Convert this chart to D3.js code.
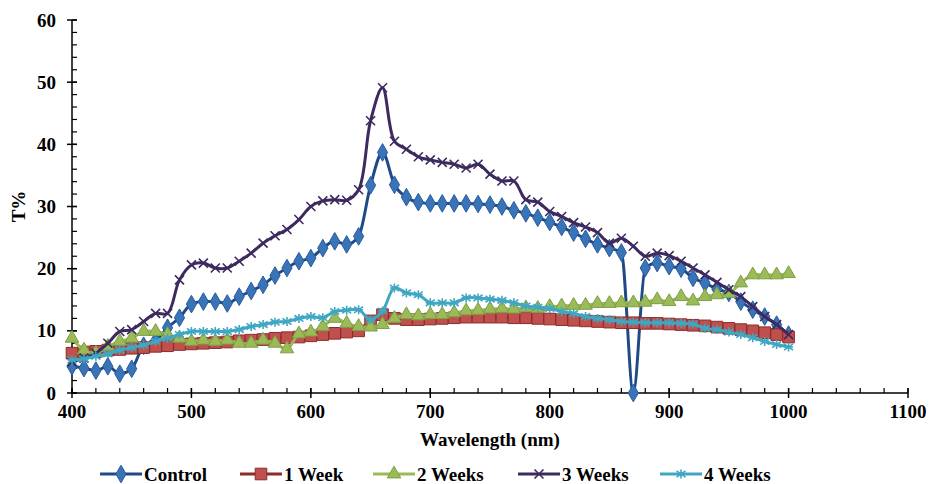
<!DOCTYPE html>
<html>
<head>
<meta charset="utf-8">
<script src="https://cdn.jsdelivr.net/npm/d3@7"></script>
<style>
  body { margin: 0; background: #fff; }
  svg text { font-family: "Liberation Serif", "Times New Roman", serif; font-weight: bold; fill: #000; }
</style>
</head>
<body>
<div id="vis"></div>
<script>
const wavelengths = [400, 410, 420, 430, 440, 450, 460, 470, 480, 490, 500, 510, 520, 530, 540, 550, 560, 570, 580, 590,
  600, 610, 620, 630, 640, 650, 660, 670, 680, 690, 700, 710, 720, 730, 740, 750, 760, 770, 780, 790,
  800, 810, 820, 830, 840, 850, 860, 870, 880, 890, 900, 910, 920, 930, 940, 950, 960, 970, 980, 990, 1000];

const control = [4.3, 4.0, 3.6, 4.3, 3.1, 3.9, 7.6, 8.4, 10.5, 12.1, 14.3, 14.7, 14.7, 14.4, 15.5, 16.4, 17.4, 18.9, 20.1, 21.2,
  21.7, 23.3, 24.4, 23.9, 25.2, 33.4, 38.7, 33.5, 31.5, 30.7, 30.5, 30.5, 30.5, 30.5, 30.4, 30.3, 30.0, 29.4, 28.9, 28.2,
  27.5, 26.7, 25.8, 24.8, 23.9, 23.3, 22.6, 0, 20.1, 20.9, 20.4, 20.0, 18.5, 17.7, 16.7, 16.1, 14.7, 13.4, 12.3, 11.0, 9.4];

const week1 = [6.4, 6.6, 6.7, 6.9, 7.0, 7.2, 7.3, 7.5, 7.6, 7.8, 7.9, 8.0, 8.1, 8.2, 8.4, 8.5, 8.6, 8.8, 8.9, 9.0,
  9.2, 9.4, 9.6, 9.8, 10.0, 11.6, 12.6, 12.0, 11.8, 11.8, 11.9, 12.0, 12.1, 12.2, 12.2, 12.2, 12.2, 12.1, 12.1, 12.0,
  11.9, 11.8, 11.7, 11.6, 11.5, 11.4, 11.3, 11.3, 11.2, 11.2, 11.1, 11.0, 10.9, 10.8, 10.6, 10.4, 10.2, 10.0, 9.7, 9.4, 9.0];

const week2 = [8.8, 6.9, 6.4, 7.5, 8.3, 8.8, 9.9, 9.9, 9.4, 8.8, 8.3, 8.5, 8.3, 8.5, 8.0, 8.0, 8.5, 8.0, 7.1, 9.5,
  9.8, 10.7, 12.0, 11.2, 10.7, 10.6, 11.0, 12.0, 12.6, 12.4, 12.6, 12.6, 12.9, 13.2, 13.3, 13.5, 13.6, 13.5, 13.7, 13.6,
  13.9, 14.0, 14.1, 14.1, 14.4, 14.4, 14.5, 14.5, 14.6, 15.0, 14.7, 15.5, 14.8, 15.5, 15.8, 16.0, 17.7, 19.0, 19.0, 19.0, 19.2];

const week3 = [5.0, 5.6, 6.4, 8.0, 9.9, 10.2, 11.5, 12.8, 12.8, 18.2, 20.6, 20.9, 20.1, 20.1, 21.2, 22.5, 24.1, 25.3, 26.3, 27.9,
  30.0, 30.9, 31.1, 31.0, 32.7, 43.8, 49.1, 40.5, 39.2, 38.0, 37.5, 37.1, 36.8, 36.2, 36.8, 35.2, 34.1, 34.1, 31.1, 30.7,
  29.2, 28.4, 27.4, 26.7, 25.8, 24.1, 24.9, 23.6, 22.0, 22.5, 22.1, 21.2, 20.1, 19.0, 17.8, 16.6, 15.5, 13.9, 12.3, 11.0, 9.4];

const week4 = [5.3, 5.5, 5.9, 6.3, 6.9, 7.3, 7.7, 8.3, 8.8, 9.4, 9.9, 9.9, 9.9, 9.9, 10.2, 10.7, 11.0, 11.4, 11.5, 12.0,
  12.3, 12.1, 13.1, 13.3, 13.4, 11.8, 13.2, 16.9, 16.1, 15.8, 14.5, 14.5, 14.5, 15.3, 15.3, 15.1, 14.9, 14.5, 14.0, 13.8,
  13.6, 13.1, 12.8, 12.3, 12.0, 11.8, 11.5, 11.4, 11.3, 11.3, 11.3, 11.2, 11.1, 10.4, 10.2, 9.8, 9.4, 8.9, 8.3, 7.8, 7.4];

const seriesNames = ["Control", "1 Week", "2 Weeks", "3 Weeks", "4 Weeks"];
const seriesValues = [control, week1, week2, week3, week4];
const xTicks = [400, 500, 600, 700, 800, 900, 1000, 1100];
const yTicks = [0, 10, 20, 30, 40, 50, 60];

const W = 929, H = 484;
const svg = d3.select("#vis").append("svg")
    .attr("width", W)
    .attr("height", H);

const x = d3.scaleLinear().domain([400, 1100]).range([72, 908]);
const y = d3.scaleLinear().domain([0, 60]).range([393, 20]);

// marker shapes
const xMark = r => `M${-r},${-r}L${r},${r}M${-r},${r}L${r},${-r}`;
const starMark = r => `M0,${-r}L0,${r}M${-r},${-r * 0.7}L${r},${r * 0.7}M${-r},${r * 0.7}L${r},${-r * 0.7}M${-r},0L${r},0`;

const styles = [
  { line: "#1f4a86", fill: "#3a74b8", stroke: "#2a5c9c", marker: () => d3.symbol(d3.symbolDiamond, 90)(), curve: d3.curveMonotoneX },
  { line: "#8e2c29", fill: "#c0504d", stroke: "#8b2d2a", marker: () => d3.symbol(d3.symbolSquare, 135)(), curve: d3.curveCatmullRom },
  { line: "#9bbb59", fill: "#9bbb59", stroke: "#7f9f45", marker: () => d3.symbol(d3.symbolTriangle, 80)(), curve: d3.curveCatmullRom },
  { line: "#3d2a5e", fill: "none", stroke: "#3d2a5e", marker: () => xMark(4.5), curve: d3.curveCatmullRom },
  { line: "#3fa7c2", fill: "none", stroke: "#3fa7c2", marker: () => starMark(4.5), curve: d3.curveCatmullRom }
];

// axes
const yAxis = svg.append("g").attr("transform", `translate(${x(400)},0)`);
yAxis.append("line").attr("y1", y(0)).attr("y2", y(60)).attr("stroke", "#000").attr("stroke-width", 1.5);
yAxis.selectAll(".minor").data(d3.range(0, 61, 2)).join("line")
    .attr("x1", 0).attr("x2", 5).attr("y1", d => y(d)).attr("y2", d => y(d))
    .attr("stroke", "#000").attr("stroke-width", 1.2);
yAxis.selectAll(".major").data(yTicks).join("line")
    .attr("x1", -5).attr("x2", 5).attr("y1", d => y(d)).attr("y2", d => y(d))
    .attr("stroke", "#000").attr("stroke-width", 1.5);
yAxis.selectAll("text").data(yTicks).join("text")
    .attr("x", -16).attr("y", d => y(d)).attr("dy", "0.35em")
    .attr("text-anchor", "end").style("font-size", "19px")
    .text(d => d);

const xAxis = svg.append("g").attr("transform", `translate(0,${y(0)})`);
xAxis.append("line").attr("x1", x(400)).attr("x2", x(1100)).attr("stroke", "#000").attr("stroke-width", 1.5);
xAxis.selectAll(".minor").data(d3.range(400, 1101, 20)).join("line")
    .attr("x1", d => x(d)).attr("x2", d => x(d)).attr("y1", 0).attr("y2", -5)
    .attr("stroke", "#000").attr("stroke-width", 1.2);
xAxis.selectAll(".major").data(xTicks).join("line")
    .attr("x1", d => x(d)).attr("x2", d => x(d)).attr("y1", 5).attr("y2", -5)
    .attr("stroke", "#000").attr("stroke-width", 1.5);
xAxis.selectAll("text").data(xTicks).join("text")
    .attr("x", d => x(d)).attr("y", 25)
    .attr("text-anchor", "middle").style("font-size", "19px")
    .text(d => d);

svg.append("text")
    .attr("x", (x(400) + x(1100)) / 2).attr("y", 446)
    .attr("text-anchor", "middle").style("font-size", "19px")
    .text("Wavelength (nm)");

svg.append("text")
    .attr("transform", `translate(25,${y(30)}) rotate(-90)`)
    .attr("text-anchor", "middle").style("font-size", "19px")
    .text("T%");

// series
seriesValues.forEach((vals, i) => {
  const st = styles[i];
  const pts = wavelengths.map((w, j) => ({ w, v: vals[j] }));
  const g = svg.append("g");
  g.append("path")
      .datum(pts)
      .attr("fill", "none")
      .attr("stroke", st.line)
      .attr("stroke-width", 3)
      .attr("d", d3.line().x(d => x(d.w)).y(d => y(d.v)).curve(st.curve));
  g.selectAll("path.m").data(pts).join("path")
      .attr("class", "m")
      .attr("transform", d => `translate(${x(d.w)},${y(d.v)})`)
      .attr("d", st.marker())
      .attr("fill", st.fill)
      .attr("stroke", st.stroke)
      .attr("stroke-width", st.fill === "none" ? 1.6 : 1);
});

// legend
const legendX = [100, 240, 373, 518, 660];
const legend = svg.append("g").attr("transform", "translate(0,474)");
seriesNames.forEach((name, i) => {
  const st = styles[i];
  const lg = legend.append("g").attr("transform", `translate(${legendX[i]},0)`);
  lg.append("line").attr("x1", 0).attr("x2", 42).attr("stroke", st.line).attr("stroke-width", 3);
  lg.append("path").attr("transform", "translate(21,0)").attr("d", st.marker())
      .attr("fill", st.fill).attr("stroke", st.stroke)
      .attr("stroke-width", st.fill === "none" ? 1.6 : 1);
  lg.append("text").attr("x", 44).attr("dy", "0.35em").style("font-size", "19px").text(name);
});
</script>
</body>
</html>
